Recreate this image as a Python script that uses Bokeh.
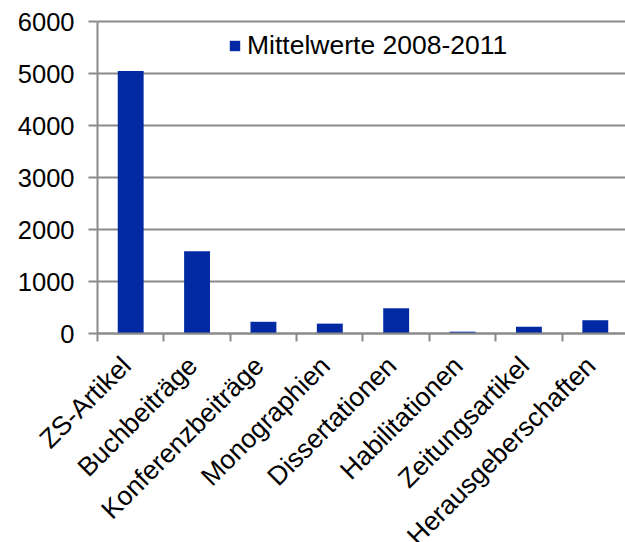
from bokeh.plotting import figure
from bokeh.models import Range1d, FixedTicker, Legend, LegendItem, ColumnDataSource
from bokeh.core.properties import value
from bokeh.embed import file_html
from bokeh.resources import INLINE
import math

# Publication types and their mean annual counts
categories = ["ZS-Artikel", "Buchbeiträge", "Konferenzbeiträge", "Monographien",
              "Dissertationen", "Habilitationen", "Zeitungsartikel", "Herausgeberschaften"]
mittelwerte = [5050, 1580, 225, 190, 485, 35, 130, 255]
series_name = "Mittelwerte 2008-2011"
y_ticks = [0, 1000, 2000, 3000, 4000, 5000, 6000]

BLUE = "#0029a3"
GREY = "#8a8a8a"
FONT = "Liberation Sans"

WIDTH, HEIGHT = 625, 542
AXIS_X = 97              # px from the left edge to the value axis
TOP = 21                 # px above the 6000 grid line
PLOT_H = 312             # px from 0 to 6000
Y_MAX = 6000
X_END = 7.955            # the last category runs slightly past the right edge
LABEL_DROP = 17          # px from the x axis line to the slanted names
LABEL_SHIFT = -15        # horizontal nudge of the slanted names, px

px_x = (WIDTH - AXIS_X) / X_END
px_y = PLOT_H / Y_MAX
below = HEIGHT - TOP - PLOT_H

centers = [i + 0.5 for i in range(len(categories))]
source = ColumnDataSource(data=dict(x=centers, top=mittelwerte, name=categories))

# The frame fills the whole canvas; the axes sit at fixed positions inside it
p = figure(width=WIDTH, height=HEIGHT, output_backend="svg", toolbar_location=None,
           x_range=Range1d(-AXIS_X / px_x, X_END),
           y_range=Range1d(-below / px_y, Y_MAX + TOP / px_y),
           min_border=0, min_border_left=0, min_border_right=0,
           min_border_top=0, min_border_bottom=0)
p.outline_line_color = None
p.background_fill_color = "white"
p.border_fill_color = "white"
p.xgrid.grid_line_color = None
p.ygrid.grid_line_color = None

# horizontal grid lines across the plotting area
p.segment(x0=0, x1=X_END, y0=y_ticks, y1=y_ticks, line_color=GREY, line_width=2)

bars = p.vbar(x="x", top="top", width=0.39, bottom=0, source=source,
              fill_color=BLUE, line_color=None)

# x axis: tick marks on the category borders
xa = p.xaxis[0]
xa.fixed_location = 0
xa.bounds = (0, X_END)
xa.ticker = FixedTicker(ticks=[], minor_ticks=list(range(len(categories))))
xa.major_label_text_font_size = "0px"
xa.major_tick_out = 0
xa.major_tick_in = 0
xa.minor_tick_out = 8
xa.minor_tick_in = 0
xa.minor_tick_line_color = GREY
xa.minor_tick_line_width = 2
xa.axis_line_color = GREY
xa.axis_line_width = 2

ya = p.yaxis[0]
ya.fixed_location = 0
ya.bounds = (0, Y_MAX)
ya.ticker = FixedTicker(ticks=y_ticks)
ya.major_tick_out = 9
ya.major_tick_in = 0
ya.minor_tick_line_color = None
ya.major_tick_line_color = GREY
ya.major_tick_line_width = 2
ya.axis_line_color = GREY
ya.axis_line_width = 2
ya.major_label_standoff = 14
ya.major_label_text_font = FONT
ya.major_label_text_font_size = "25.5px"
ya.major_label_text_color = "black"

# slanted category names under the axis
p.text(x=centers, y=-LABEL_DROP / px_y, text=categories, angle=math.pi / 4,
       text_align="right", text_baseline="top", x_offset=LABEL_SHIFT,
       text_font=value(FONT), text_font_size=value("26.5px"), text_color="black")

legend = Legend(items=[LegendItem(label=series_name, renderers=[bars])],
                location=(AXIS_X + 131, below + 272), padding=0, margin=0,
                glyph_width=13, glyph_height=13, label_standoff=6,
                border_line_color=None, background_fill_alpha=0,
                label_text_font=FONT, label_text_font_size="26.5px",
                label_text_color="black")
p.add_layout(legend, "center")

open("out.html", "w").write(file_html(p, INLINE))
